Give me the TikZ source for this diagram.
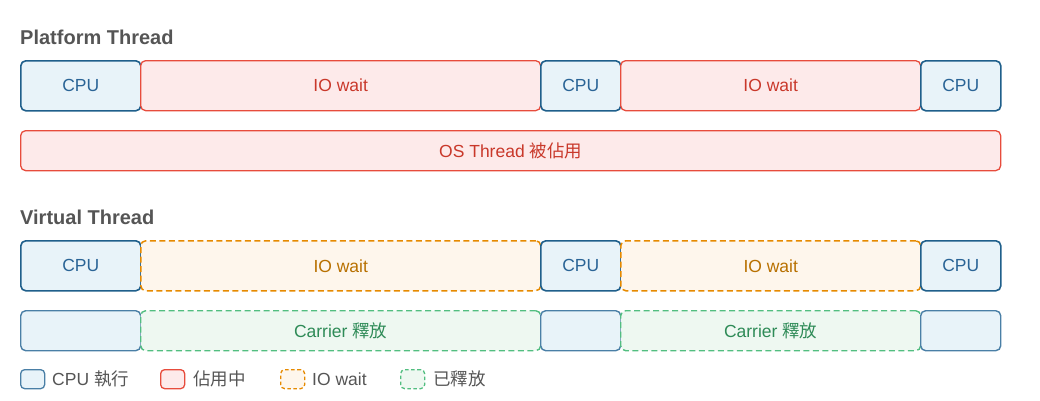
\documentclass[tikz,border=0pt]{standalone}
\usepackage{fontspec}
\setmainfont{Liberation Sans}
\newfontfamily\cjk{Noto Sans CJK TC}
\definecolor{cpuS}{HTML}{1F5F8B}
\definecolor{cpuS2}{HTML}{4A7FA6}
\definecolor{cpuF}{HTML}{E8F3F9}
\definecolor{cpuT}{HTML}{2A6496}
\definecolor{redS}{HTML}{E74C3C}
\definecolor{redF}{HTML}{FDEAEA}
\definecolor{redT}{HTML}{C9382A}
\definecolor{orS}{HTML}{E68A00}
\definecolor{orF}{HTML}{FEF6EC}
\definecolor{orT}{HTML}{B87000}
\definecolor{grS}{HTML}{52BE80}
\definecolor{grF}{HTML}{EEF8F1}
\definecolor{grT}{HTML}{2E8B57}
\definecolor{txtG}{HTML}{555555}
\tikzset{
  box/.style={rectangle, rounded corners=5pt, anchor=north west, inner sep=0pt, font=\fontsize{17.5}{20}\selectfont},
  cpubox/.style={box, draw=cpuS, fill=cpuF, line width=1.6pt, text=cpuT},
  carbox/.style={box, draw=cpuS2, fill=cpuF, line width=1.4pt},
  redbox/.style={box, draw=redS, fill=redF, line width=1.3pt, text=redT},
  orbox/.style={box, draw=orS, fill=orF, line width=1.5pt, dash pattern=on 6pt off 3.5pt, text=orT},
  grbox/.style={box, draw=grS, fill=grF, line width=1.4pt, dash pattern=on 6pt off 3.5pt, text=grT},
  title/.style={anchor=west, inner sep=0pt, text=txtG, font=\fontsize{20}{22}\selectfont\bfseries},
  legtext/.style={anchor=west, inner sep=0pt, text=txtG, font=\fontsize{17.5}{20}\selectfont},
}
\begin{document}
\begin{tikzpicture}[x=1pt,y=-1pt]
\useasboundingbox (0,0) rectangle (1040,400);
\node[title] (t1) at (20,37) {Platform Thread};
% Row 1
\node[cpubox, minimum width=120pt, minimum height=50pt] (p1) at (20,60) {CPU};
\node[redbox, minimum width=400pt, minimum height=50pt] (p2) at (140,60) {IO wait};
\node[cpubox, minimum width=80pt, minimum height=50pt] (p3) at (540,60) {CPU};
\node[redbox, minimum width=300pt, minimum height=50pt] (p4) at (620,60) {IO wait};
\node[cpubox, minimum width=80pt, minimum height=50pt] (p5) at (920,60) {CPU};
% OS thread
\node[redbox, minimum width=980pt, minimum height=40pt] (os) at (20,130) {OS Thread {\cjk 被佔用}};
\node[title] (t2) at (20,217) {Virtual Thread};
% Row 3
\node[cpubox, minimum width=120pt, minimum height=50pt] (v1) at (20,240) {CPU};
\node[orbox, minimum width=400pt, minimum height=50pt] (v2) at (140,240) {IO wait};
\node[cpubox, minimum width=80pt, minimum height=50pt] (v3) at (540,240) {CPU};
\node[orbox, minimum width=300pt, minimum height=50pt] (v4) at (620,240) {IO wait};
\node[cpubox, minimum width=80pt, minimum height=50pt] (v5) at (920,240) {CPU};
% Row 4
\node[carbox, minimum width=120pt, minimum height=40pt] (c1) at (20,310) {};
\node[grbox, minimum width=400pt, minimum height=40pt] (c2) at (140,310) {Carrier {\cjk 釋放}};
\node[carbox, minimum width=80pt, minimum height=40pt] (c3) at (540,310) {};
\node[grbox, minimum width=300pt, minimum height=40pt] (c4) at (620,310) {Carrier {\cjk 釋放}};
\node[carbox, minimum width=80pt, minimum height=40pt] (c5) at (920,310) {};
% Legend
\node[cpubox, rounded corners=4pt, line width=1.3pt, draw=cpuS2, minimum width=24pt, minimum height=19pt] (l1) at (20,369) {};
\node[legtext] (lt1) at (52,379) {CPU {\cjk 執行}};
\node[redbox, rounded corners=4pt, line width=1.3pt, minimum width=24pt, minimum height=19pt] (l2) at (160,369) {};
\node[legtext] (lt2) at (193,379) {\cjk 佔用中};
\node[orbox, rounded corners=4pt, line width=1.3pt, dash pattern=on 3.5pt off 2.5pt, minimum width=24pt, minimum height=19pt] (l3) at (280,369) {};
\node[legtext] (lt3) at (312,379) {IO wait};
\node[grbox, rounded corners=4pt, line width=1.3pt, dash pattern=on 3.5pt off 2.5pt, minimum width=24pt, minimum height=19pt] (l4) at (400,369) {};
\node[legtext] (lt4) at (433,379) {\cjk 已釋放};
\end{tikzpicture}
\end{document}
